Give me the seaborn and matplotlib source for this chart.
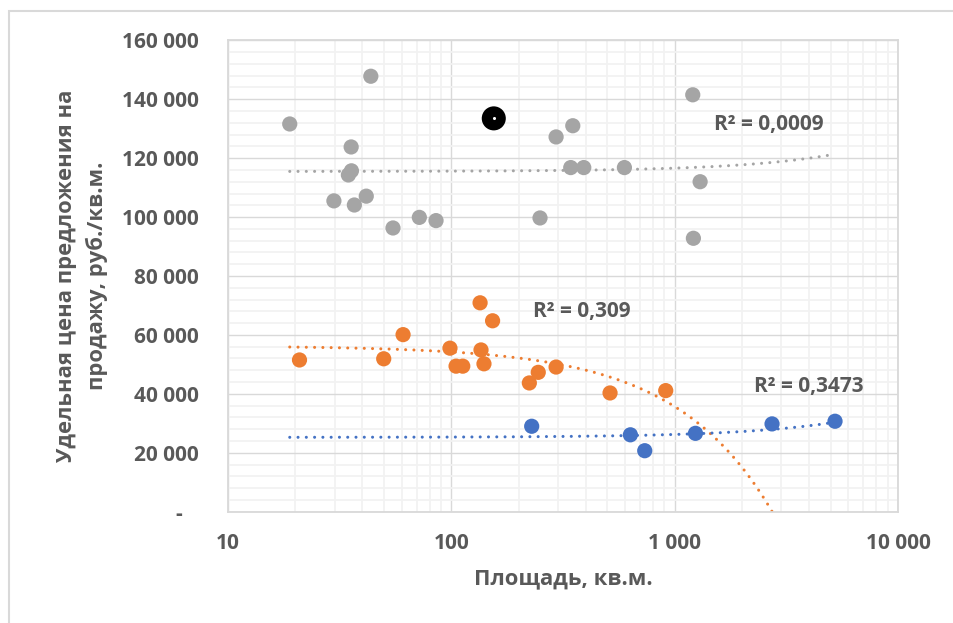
import numpy as np
import pandas as pd
import matplotlib
matplotlib.use("Agg")
import matplotlib.pyplot as plt
from matplotlib.patches import Rectangle
from matplotlib.ticker import FixedLocator, FixedFormatter, MultipleLocator, NullFormatter
import seaborn as sns

# ---- data ----
gray_x = [18.9, 43.6, 35.6, 35.7, 34.6, 29.8, 36.8, 41.6, 54.8, 71.9, 85.4,
          294.5, 349.8, 342.5, 391.7, 595.6, 249.5, 1205, 1300, 1213]
gray_y = [131600, 147800, 123800, 115700, 114300, 105500, 104100, 107100, 96300, 99900, 98800,
          127200, 131000, 116800, 116800, 116800, 99700, 141500, 112000, 92800]

orange_x = [20.9, 49.8, 60.8, 98.6, 105, 112.5, 134.5, 153, 135.8, 140,
            223.5, 245, 294.5, 513.6, 912]
orange_y = [51500, 51900, 60100, 55500, 49400, 49400, 70900, 64800, 54900, 50200,
            43700, 47300, 49100, 40300, 41100]

blue_x = [229, 633.5, 734.5, 1239, 2729, 5224]
blue_y = [29000, 26100, 20700, 26600, 29800, 30700]

black_x = [154.9]
black_y = [133500]

# linear trendlines y = intercept + slope * x
trend_intercepts = [115480, 56290, 25230]
trend_slopes = [1.124, -20.6, 0.986]
r2_labels = ["R² = 0,0009", "R² = 0,309", "R² = 0,3473"]

y_ticks = [0, 20000, 40000, 60000, 80000, 100000, 120000, 140000, 160000]
y_tick_labels = ["-   ", "20 000", "40 000", "60 000", "80 000", "100 000", "120 000", "140 000", "160 000"]
x_ticks = [10, 100, 1000, 10000]
x_tick_labels = ["10", "100", "1 000", "10 000"]

GRAY = "#A5A5A5"
ORANGE = "#ED7D31"
BLUE = "#4472C4"
TXT = "#595959"

sns.set_style("white")
plt.rcParams["font.family"] = ["Open Sans", "DejaVu Sans"]

df = pd.concat([
    pd.DataFrame({"x": gray_x, "y": gray_y, "g": "gray"}),
    pd.DataFrame({"x": orange_x, "y": orange_y, "g": "orange"}),
    pd.DataFrame({"x": blue_x, "y": blue_y, "g": "blue"}),
], ignore_index=True)

fig = plt.figure(figsize=(9.54, 6.23), dpi=100)
ax = fig.add_axes([228 / 954, 1 - 511.7 / 623, 670 / 954, 471.4 / 623])

ax.set_xscale("log")
ax.set_xlim(10, 10000)
ax.set_ylim(0, 160000)

# grid
ax.xaxis.set_major_locator(FixedLocator(x_ticks))
ax.xaxis.set_major_formatter(FixedFormatter(x_tick_labels))
minors = [m * 10 ** e for e in range(1, 4) for m in range(2, 10)]
ax.xaxis.set_minor_locator(FixedLocator(minors))
ax.xaxis.set_minor_formatter(NullFormatter())
ax.yaxis.set_major_locator(FixedLocator(y_ticks))
ax.yaxis.set_major_formatter(FixedFormatter(y_tick_labels))
ax.yaxis.set_minor_locator(MultipleLocator(4000))
ax.grid(which="minor", color="#F2F2F2", lw=1.3, zorder=0)
ax.grid(which="major", color="#D9D9D9", lw=1.0, zorder=0)
ax.set_axisbelow(True)
for s in ax.spines.values():
    s.set_color("#D9D9D9")
    s.set_linewidth(1.3)
ax.tick_params(which="both", length=0)
ax.tick_params(axis="y", pad=21, labelsize=15, labelcolor=TXT)
ax.tick_params(axis="x", pad=15, labelsize=15, labelcolor=TXT)
for lab in ax.get_xticklabels() + ax.get_yticklabels():
    lab.set_fontweight("bold")

# trendlines (linear in x, drawn on the log axis)
all_x = gray_x + orange_x + blue_x
xs = np.geomspace(min(all_x), max(all_x), 400)
for a, b, c in zip(trend_intercepts, trend_slopes, [GRAY, ORANGE, BLUE]):
    ax.plot(xs, a + b * xs, color=c, lw=2.2, linestyle=(0, (0.01, 2.7)),
            dash_capstyle="round", zorder=2)

sns.scatterplot(data=df, x="x", y="y", hue="g",
                palette={"gray": GRAY, "orange": ORANGE, "blue": BLUE},
                s=120, edgecolor="none", legend=False, ax=ax, zorder=3)
sns.scatterplot(x=black_x, y=black_y, color="black", s=300, edgecolor="none",
                legend=False, ax=ax, zorder=4)
ax.scatter(black_x, black_y, color="white", s=1.5, zorder=5)

ax.set_xlabel("Площадь, кв.м.", fontsize=15.8, fontweight="bold", color=TXT)
ax.xaxis.set_label_coords(0.5, (511.7 - 568) / 471.4)
ax.set_ylabel("Удельная цена предложения на\nпродажу, руб./кв.м.", fontsize=15.8,
              fontweight="bold", color=TXT, linespacing=1.5)
ax.yaxis.set_label_coords((108 - 228) / 670, 0.5)

for (fx, fy), t in zip([(0.725, 0.822), (0.455, 0.424), (0.785, 0.265)], r2_labels):
    ax.text(fx, fy, t, transform=ax.transAxes, fontsize=15, fontweight="bold",
            color=TXT, va="center", ha="left")

fig.patches.append(Rectangle((9.5 / 954, -0.1), 2, 1 - 10.7 / 623 + 0.1,
                             transform=fig.transFigure, fill=False,
                             edgecolor="#D9D9D9", lw=1.5))

fig.savefig("out.png", dpi=100)
